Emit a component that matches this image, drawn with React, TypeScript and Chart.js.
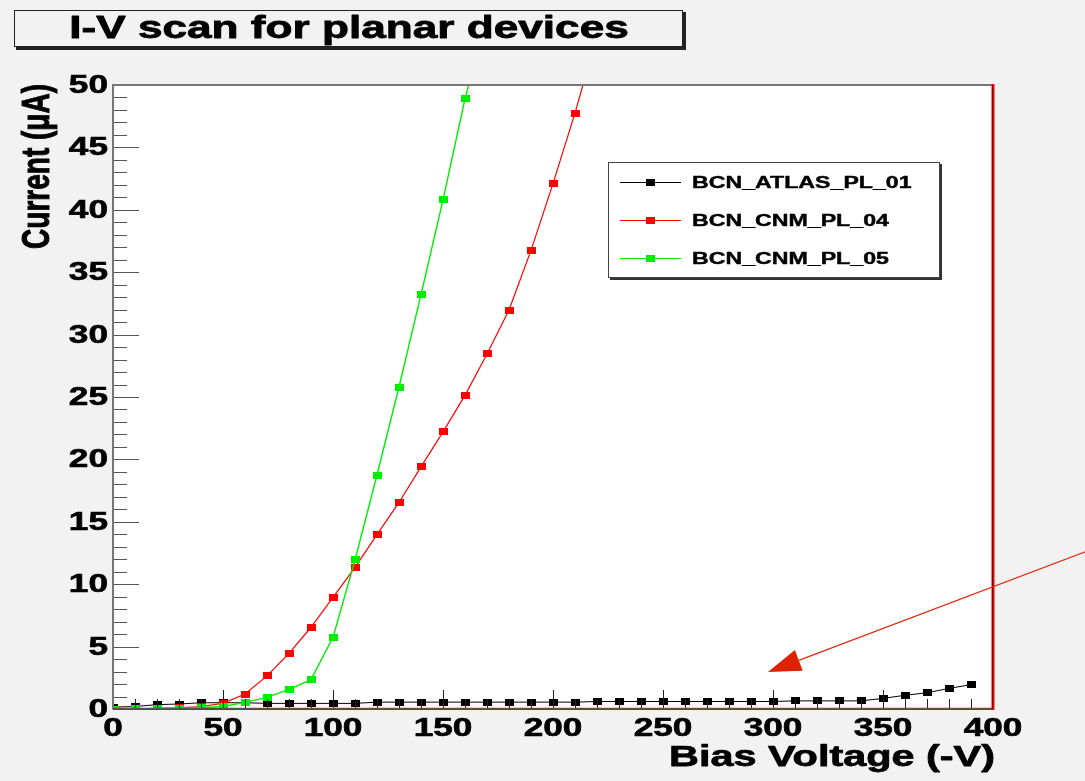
import React, { useEffect, useRef } from "react";
import { Chart, registerables } from "chart.js";

Chart.register(...registerables);

// ---- Data ----
const voltageAtlas = [0, 10, 20, 30, 40, 50, 60, 70, 80, 90, 100, 110, 120, 130, 140, 150, 160, 170, 180, 190, 200, 210, 220, 230, 240, 250, 260, 270, 280, 290, 300, 310, 320, 330, 340, 350, 360, 370, 380, 390];
const currentAtlas01 = [0.15, 0.2, 0.35, 0.4, 0.5, 0.5, 0.5, 0.45, 0.45, 0.45, 0.45, 0.45, 0.55, 0.55, 0.55, 0.55, 0.55, 0.55, 0.55, 0.55, 0.55, 0.55, 0.6, 0.6, 0.6, 0.6, 0.6, 0.6, 0.6, 0.6, 0.6, 0.65, 0.65, 0.65, 0.65, 0.85, 1.1, 1.3, 1.65, 1.95];

const voltageCnm04 = [0, 10, 20, 30, 40, 50, 60, 70, 80, 90, 100, 110, 120, 130, 140, 150, 160, 170, 180, 190, 200, 210, 220];
const currentCnm04 = [0, 0.02, 0.05, 0.1, 0.2, 0.45, 1.2, 2.65, 4.45, 6.55, 8.95, 11.35, 13.97, 16.55, 19.4, 22.2, 25.13, 28.45, 31.97, 36.75, 42.1, 47.75, 54.0];

const voltageCnm05 = [0, 10, 20, 30, 40, 50, 60, 70, 80, 90, 100, 110, 120, 130, 140, 150, 160, 170];
const currentCnm05 = [0, 0.03, 0.02, 0.05, 0.1, 0.2, 0.53, 0.93, 1.57, 2.35, 5.74, 11.94, 18.75, 25.8, 33.2, 40.8, 48.9, 55.5];

const seriesLabels = ["BCN_ATLAS_PL_01", "BCN_CNM_PL_04", "BCN_CNM_PL_05"];
const seriesColors = ["#000000", "#ff0000", "#00ee00"];

const xTickLabels = [0, 50, 100, 150, 200, 250, 300, 350, 400];
const yTickLabels = [0, 5, 10, 15, 20, 25, 30, 35, 40, 45, 50];
const xMinorStep = 10;
const yMinorStep = 1;

const titleText = "I-V scan for planar devices";
const xTitle = "Bias Voltage (-V)";
const yTitle = "Current (\u03bcA)";

// arrow annotation in data coordinates: [voltage, current]
const arrowFrom = [442, 12.6];
const arrowTo = [297.7, 2.96];

const FONT = "'Liberation Sans', Arial, Helvetica, sans-serif";
const SX = 1.38; // horizontal stretch of the reference rendering

function makeMarker(color: string) {
  const c = document.createElement("canvas");
  c.width = 9;
  c.height = 7;
  const g = c.getContext("2d")!;
  g.fillStyle = color;
  g.fillRect(0, 0, 9, 7);
  return c;
}

function sText(ctx: CanvasRenderingContext2D, text: string, x: number, y: number, align: CanvasTextAlign, size: number) {
  ctx.save();
  ctx.translate(x, y);
  ctx.scale(SX, 1);
  ctx.font = `bold ${size}px ${FONT}`;
  ctx.textAlign = align;
  ctx.textBaseline = "middle";
  ctx.fillStyle = "#000";
  ctx.strokeStyle = "#000";
  ctx.lineWidth = size / 40;
  ctx.lineJoin = "round";
  ctx.fillText(text, 0, 0);
  ctx.strokeText(text, 0, 0);
  ctx.restore();
}

export default function App() {
  const ref = useRef<HTMLCanvasElement | null>(null);

  useEffect(() => {
    const canvas = ref.current!;
    const markers = seriesColors.map(makeMarker);

    const decor = {
      id: "rootDecor",
      beforeDraw(chart: any) {
        const { ctx, chartArea: a, width, height } = chart;
        ctx.save();
        ctx.fillStyle = "#f2f2f2";
        ctx.fillRect(0, 0, width, height);
        ctx.fillStyle = "#ffffff";
        ctx.fillRect(a.left, a.top, a.right - a.left, a.bottom - a.top);
        ctx.restore();
      },
      afterDatasetsDraw(chart: any) {
        const { ctx, chartArea: a } = chart;
        const xs = chart.scales.x;
        const ys = chart.scales.y;
        ctx.save();

        // ticks (drawn inside the frame)
        ctx.strokeStyle = "#222";
        ctx.lineWidth = 1;
        for (let v = xs.min; v <= xs.max + 1e-9; v += xMinorStep) {
          const px = Math.round(xs.getPixelForValue(v)) + 0.5;
          const major = xTickLabels.includes(v);
          ctx.beginPath();
          ctx.moveTo(px, a.bottom);
          ctx.lineTo(px, a.bottom - (major ? 19 : 10));
          ctx.stroke();
        }
        ctx.strokeStyle = "#555";
        for (let v = ys.min; v <= ys.max + 1e-9; v += yMinorStep) {
          const py = Math.round(ys.getPixelForValue(v)) + 0.5;
          const major = yTickLabels.includes(v);
          ctx.beginPath();
          ctx.moveTo(a.left, py);
          ctx.lineTo(a.left + (major ? 26 : 14), py);
          ctx.stroke();
        }

        // frame
        ctx.lineWidth = 2;
        ctx.strokeStyle = "#777";
        ctx.beginPath();
        ctx.moveTo(a.left, a.bottom);
        ctx.lineTo(a.left, a.top);
        ctx.lineTo(a.right, a.top);
        ctx.stroke();
        ctx.strokeStyle = "#555";
        ctx.lineWidth = 1.5;
        ctx.beginPath();
        ctx.moveTo(a.left, a.bottom - 0.5);
        ctx.lineTo(a.right, a.bottom - 0.5);
        ctx.stroke();
        ctx.strokeStyle = "#ee0000";
        ctx.lineWidth = 1;
        ctx.beginPath();
        ctx.moveTo(a.left, a.bottom + 0.5);
        ctx.lineTo(a.right, a.bottom + 0.5);
        ctx.stroke();
        ctx.lineWidth = 3;
        ctx.strokeStyle = "#ff0000";
        ctx.beginPath();
        ctx.moveTo(a.right, a.top - 1);
        ctx.lineTo(a.right, a.bottom + 1);
        ctx.stroke();
        ctx.lineWidth = 1;
        ctx.strokeStyle = "#550000";
        ctx.beginPath();
        ctx.moveTo(a.right - 0.5, a.top);
        ctx.lineTo(a.right - 0.5, a.bottom);
        ctx.stroke();

        // tick labels
        xTickLabels.forEach((v) => sText(ctx, String(v), xs.getPixelForValue(v), a.bottom + 20, "center", 25.5));
        yTickLabels.forEach((v) => sText(ctx, String(v), a.left - 5, ys.getPixelForValue(v) + 1, "right", 25.5));

        // axis titles
        sText(ctx, xTitle, a.right + 2, a.bottom + 49, "right", 30);
        ctx.save();
        ctx.translate(38, a.top - 1);
        ctx.rotate(-Math.PI / 2);
        ctx.scale(1, SX);
        ctx.font = `bold 28px ${FONT}`;
        ctx.textAlign = "right";
        ctx.textBaseline = "middle";
        ctx.fillStyle = "#000";
        ctx.strokeStyle = "#000";
        ctx.lineWidth = 0.7;
        ctx.fillText(yTitle, 0, 0);
        ctx.strokeText(yTitle, 0, 0);
        ctx.restore();

        // title box
        ctx.fillStyle = "#222";
        ctx.fillRect(16, 12, 670, 38);
        ctx.fillStyle = "#f2f2f2";
        ctx.fillRect(14, 10, 669, 37);
        ctx.strokeStyle = "#222";
        ctx.lineWidth = 1;
        ctx.strokeRect(14.5, 10.5, 668, 36);
        sText(ctx, titleText, 349, 29, "center", 32);

        // legend
        const lx = 608, ly = 162, lw = 332, lh = 116;
        ctx.fillStyle = "#333";
        ctx.fillRect(lx + 2, ly + 2, lw, lh);
        ctx.fillStyle = "#fff";
        ctx.fillRect(lx, ly, lw, lh);
        ctx.strokeStyle = "#444";
        ctx.lineWidth = 1;
        ctx.strokeRect(lx + 0.5, ly + 0.5, lw - 1, lh - 1);
        const rows = [182, 220, 258];
        chart.data.datasets.forEach((ds: any, i: number) => {
          const ry = rows[i];
          ctx.strokeStyle = ds.borderColor;
          ctx.lineWidth = 1;
          ctx.beginPath();
          ctx.moveTo(620, ry + 0.5);
          ctx.lineTo(681, ry + 0.5);
          ctx.stroke();
          ctx.drawImage(markers[i], 646, ry - 3);
          sText(ctx, ds.label, 692, ry + 1, "left", 16.8);
        });

        ctx.restore();
      },
      afterDraw(chart: any) {
        const { ctx } = chart;
        const xs = chart.scales.x;
        const ys = chart.scales.y;
        const x0 = xs.getPixelForValue(arrowFrom[0]);
        const y0 = ys.getPixelForValue(arrowFrom[1]);
        const x1 = xs.getPixelForValue(arrowTo[0]);
        const y1 = ys.getPixelForValue(arrowTo[1]);
        const dx = x0 - x1, dy = y0 - y1;
        const len = Math.hypot(dx, dy);
        const ux = dx / len, uy = dy / len;
        const bx = x1 + ux * 33, by = y1 + uy * 33;
        ctx.save();
        ctx.strokeStyle = "#e02a10";
        ctx.fillStyle = "#dd2200";
        ctx.lineWidth = 1.3;
        ctx.beginPath();
        ctx.moveTo(x0, y0);
        ctx.lineTo(bx, by);
        ctx.stroke();
        ctx.beginPath();
        ctx.moveTo(x1, y1);
        ctx.lineTo(bx - uy * 11, by + ux * 11);
        ctx.lineTo(bx + uy * 11, by - ux * 11);
        ctx.closePath();
        ctx.fill();
        ctx.restore();
      },
    };

    const mk = (xsArr: number[], ysArr: number[]) => xsArr.map((x, i) => ({ x, y: ysArr[i] }));

    const chart = new Chart(canvas, {
      type: "line",
      data: {
        datasets: [
          {
            label: seriesLabels[0],
            data: mk(voltageAtlas, currentAtlas01),
            borderColor: seriesColors[0],
            backgroundColor: seriesColors[0],
            borderWidth: 1,
            pointStyle: markers[0] as any,
            pointRadius: 4,
            tension: 0,
            order: 2,
          },
          {
            label: seriesLabels[1],
            data: mk(voltageCnm04, currentCnm04),
            borderColor: seriesColors[1],
            backgroundColor: seriesColors[1],
            borderWidth: 1.2,
            pointStyle: markers[1] as any,
            pointRadius: 4,
            tension: 0,
            order: 1,
          },
          {
            label: seriesLabels[2],
            data: mk(voltageCnm05, currentCnm05),
            borderColor: seriesColors[2],
            backgroundColor: seriesColors[2],
            borderWidth: 1.4,
            pointStyle: markers[2] as any,
            pointRadius: 4,
            tension: 0,
            order: 0,
          },
        ],
      },
      options: {
        responsive: false,
        animation: false,
        devicePixelRatio: 1,
        layout: { padding: { left: 113, right: 92, top: 85, bottom: 72 } },
        plugins: { legend: { display: false }, tooltip: { enabled: false }, title: { display: false } },
        events: [],
        scales: {
          x: { type: "linear", min: 0, max: 400, display: false },
          y: { type: "linear", min: 0, max: 50, display: false },
        },
      },
      plugins: [decor],
    });
    return () => chart.destroy();
  }, []);

  return (
    <div style={{ position: "fixed", left: 0, top: 0, width: 1085, height: 781 }}>
      <canvas ref={ref} width={1085} height={781} style={{ display: "block", width: 1085, height: 781 }} />
    </div>
  );
}
